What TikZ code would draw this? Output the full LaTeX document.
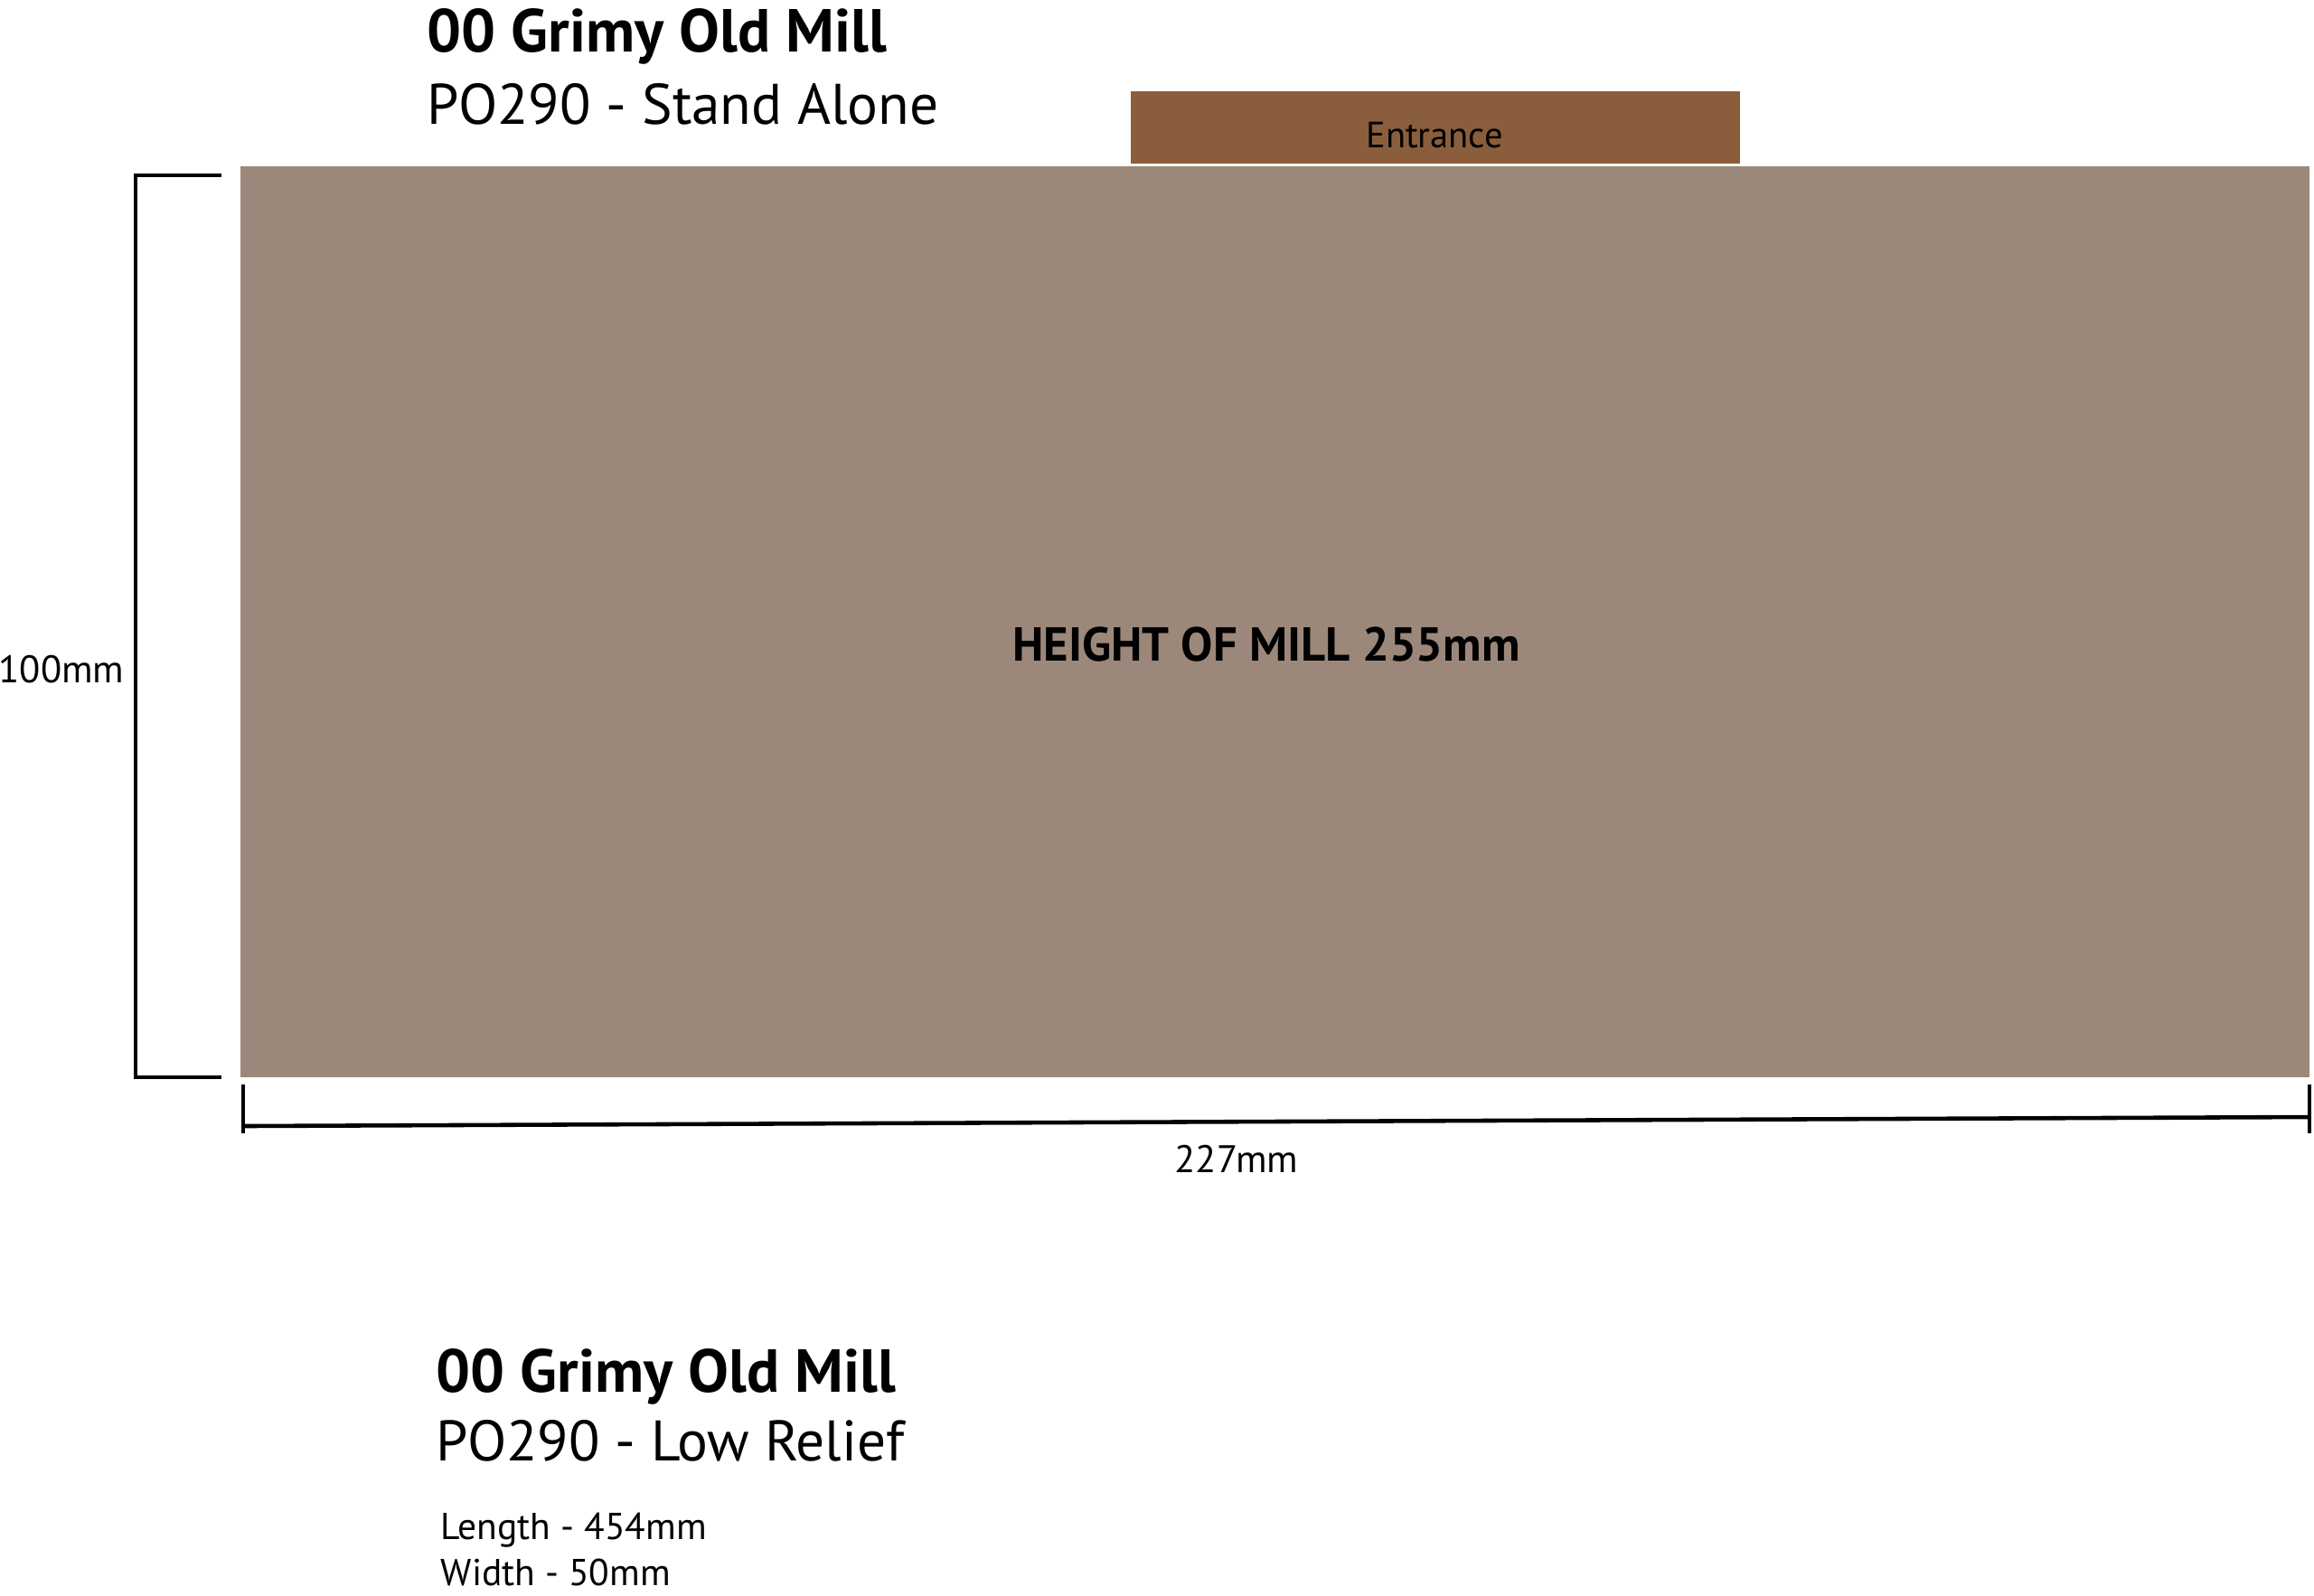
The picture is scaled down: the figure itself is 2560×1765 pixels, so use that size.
\documentclass[tikz,border=0pt]{standalone}
\usepackage{fontspec}
\setmainfont{PT Sans}
\definecolor{millgrey}{HTML}{9C887A}
\definecolor{doorbrown}{HTML}{8A5E3C}
\begin{document}
\begin{tikzpicture}[x=0.01cm,y=-0.01cm,
	dimline/.style={line width=1.3pt},
	title/.style={anchor=base west,inner sep=0pt,font=\fontsize{19.1}{23}\selectfont\bfseries},
	subtitle/.style={anchor=base west,inner sep=0pt,font=\fontsize{18}{22}\selectfont},
	info/.style={anchor=base west,inner sep=0pt,font=\fontsize{11.8}{14}\selectfont},
	dimlabel/.style={inner sep=0pt,font=\fontsize{12.1}{14}\selectfont}]
	\useasboundingbox (0,0) rectangle (2560,1765);
	% footprint of the mill
	\fill[millgrey] (266,184) rectangle (2555,1192);
	\fill[doorbrown] (1251,101) rectangle (1925,181);
	\node[inner sep=0pt,font=\fontsize{11.5}{14}\selectfont] (door) at (1587,150) {Entrance};
	\node[inner sep=0pt,font=\fontsize{15}{18}\selectfont\bfseries] (height) at (1401,713) {HEIGHT OF MILL 255mm};
	% headings
	\node[title] (top1) at (472,57) {00 Grimy Old Mill};
	\node[subtitle] (top2) at (472,137) {PO290 - Stand Alone};
	\node[title] (low1) at (482,1540) {00 Grimy Old Mill};
	\node[subtitle] (low2) at (482,1616) {PO290 - Low Relief};
	\node[info] (len) at (487,1703) {Length - 454mm};
	\node[info] (wid) at (487,1754) {Width - 50mm};
	% dimension marks
	\coordinate (vt) at (150,194);
	\coordinate (vb) at (150,1192);
	\draw[dimline] (245,194) -- (vt) -- (vb) -- (245,1192);
	\node[dimlabel] (depth) at (68,741) {100mm};
	\coordinate (hl) at (269,1246);
	\coordinate (hr) at (2555,1236);
	\draw[dimline] (269,1200) -- (269,1254);
	\draw[dimline] (2555,1200) -- (2555,1254);
	\draw[dimline] (hl) -- (hr);
	\node[dimlabel] (span) at (1368,1282) {227mm};
\end{tikzpicture}
\end{document}
